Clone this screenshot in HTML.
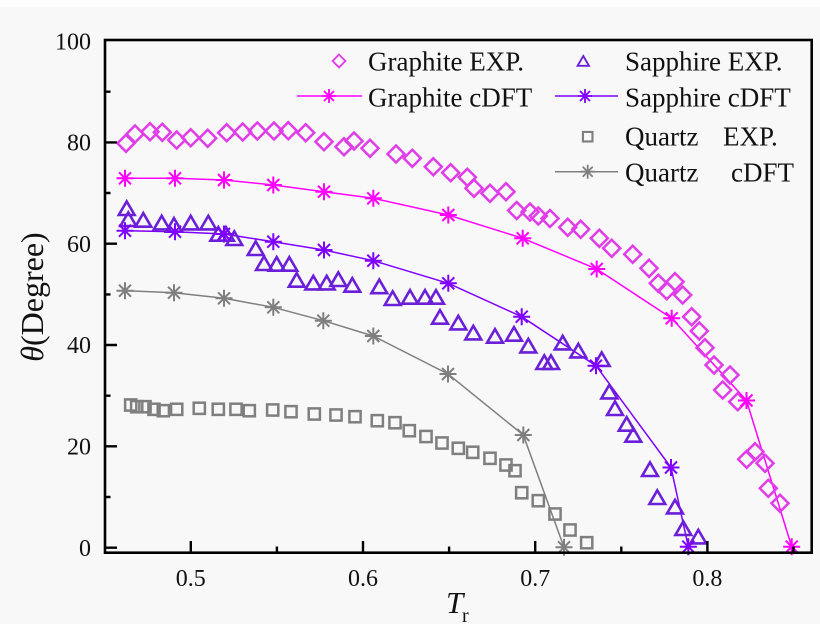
<!DOCTYPE html>
<html><head><meta charset="utf-8"><style>
html,body{margin:0;padding:0;background:#f8f8f8;}
svg{display:block;font-family:"Liberation Serif","Times New Roman",serif;}
svg text{font-family:"Liberation Serif","Times New Roman",serif;fill:#111;}
</style></head><body>
<svg width="820" height="624" viewBox="0 0 820 624" xmlns="http://www.w3.org/2000/svg" font-family="'Liberation Serif', serif">
<defs>
<path id="dia" d="M0,-8.5 L8.5,0 L0,8.5 L-8.5,0 Z" fill="none" stroke="#e03ce8" stroke-width="2.5"/>
<path id="tri" d="M0,-6.9 L7.9,6.7 L-7.9,6.7 Z" fill="none" stroke="#6b1fd9" stroke-width="2.6" stroke-linejoin="miter"/>
<rect id="sq" x="-5.6" y="-5.6" width="11.2" height="11.2" fill="none" stroke="#7f7f7f" stroke-width="2.5"/>
<g id="stG" stroke="#ff00ff" stroke-width="2"><path d="M-8.5,0H8.5M0,-8.5V8.5M-6,-6L6,6M-6,6L6,-6"/></g>
<g id="stS" stroke="#7f00ff" stroke-width="2"><path d="M-8.5,0H8.5M0,-8.5V8.5M-6,-6L6,6M-6,6L6,-6"/></g>
<g id="stQ" stroke="#7f7f7f" stroke-width="2"><path d="M-8.5,0H8.5M0,-8.5V8.5M-6,-6L6,6M-6,6L6,-6"/></g>
<g id="lstG" stroke="#ff00ff" stroke-width="1.8"><path d="M-7,0H7M0,-7V7M-5,-5L5,5M-5,5L5,-5"/></g>
<g id="lstS" stroke="#7f00ff" stroke-width="1.8"><path d="M-7,0H7M0,-7V7M-5,-5L5,5M-5,5L5,-5"/></g>
<g id="lstQ" stroke="#7f7f7f" stroke-width="1.8"><path d="M-7,0H7M0,-7V7M-5,-5L5,5M-5,5L5,-5"/></g>
</defs>
<rect x="0" y="0" width="820" height="7" fill="#fdfdfd"/>

<polyline fill="none" stroke="#ff00ff" stroke-width="1.5" points="125,178.3 175,178.3 224,180 273.3,185 324,191.7 373.3,198.3 448.3,215 522.7,238.3 596.7,269 671.7,318.3 746.5,400.5 791.7,546.7"/>
<polyline fill="none" stroke="#7f00ff" stroke-width="1.5" points="125,230.7 175,231.7 224,234 273.3,241.7 324,250 373.3,260.7 448.3,283.3 521.7,316.7 596,365.7 671,467.5 688.3,546.7"/>
<polyline fill="none" stroke="#7f7f7f" stroke-width="1.5" points="125,290.7 174,292.7 224,298.3 273.3,307.3 323.3,320.7 373.3,336 448,374 523.3,435 564,547.3"/>

<g>
<use href="#sq" x="130.7" y="405"/><use href="#sq" x="136.7" y="406.7"/><use href="#sq" x="145" y="406.7"/><use href="#sq" x="154" y="409.3"/><use href="#sq" x="163.3" y="410.7"/><use href="#sq" x="176.7" y="409.3"/><use href="#sq" x="199.3" y="408.3"/><use href="#sq" x="218.3" y="409.3"/><use href="#sq" x="236" y="409.3"/><use href="#sq" x="249.3" y="410.7"/><use href="#sq" x="272.7" y="410"/><use href="#sq" x="291" y="411.7"/><use href="#sq" x="314.3" y="414"/><use href="#sq" x="336" y="415"/><use href="#sq" x="355" y="416.7"/><use href="#sq" x="377.3" y="420.7"/><use href="#sq" x="395" y="422.7"/><use href="#sq" x="409.3" y="430.7"/><use href="#sq" x="426" y="436.5"/><use href="#sq" x="442" y="443"/><use href="#sq" x="458.3" y="448.3"/><use href="#sq" x="472.7" y="452.3"/><use href="#sq" x="490" y="458.3"/><use href="#sq" x="506" y="465"/><use href="#sq" x="515" y="470.7"/><use href="#sq" x="521.7" y="492.7"/><use href="#sq" x="538.3" y="500.7"/><use href="#sq" x="555" y="514"/><use href="#sq" x="570" y="530"/><use href="#sq" x="586.7" y="542.7"/>
</g>

<g>
<use href="#tri" x="126.7" y="208.3"/><use href="#tri" x="128.3" y="219.3"/><use href="#tri" x="143.3" y="220"/><use href="#tri" x="161.7" y="222.7"/><use href="#tri" x="174" y="225"/><use href="#tri" x="190.7" y="222.7"/><use href="#tri" x="208.3" y="222.7"/><use href="#tri" x="218.3" y="234"/><use href="#tri" x="226" y="234"/><use href="#tri" x="234.3" y="238.3"/><use href="#tri" x="255.7" y="248.3"/><use href="#tri" x="264" y="263.3"/><use href="#tri" x="276.7" y="264"/><use href="#tri" x="289.3" y="264"/><use href="#tri" x="296.7" y="280"/><use href="#tri" x="313.3" y="282.7"/><use href="#tri" x="326.7" y="282.7"/><use href="#tri" x="338.3" y="279.3"/><use href="#tri" x="352.3" y="285"/><use href="#tri" x="379.3" y="286.5"/><use href="#tri" x="392.7" y="298.3"/><use href="#tri" x="410" y="297"/><use href="#tri" x="425" y="297"/><use href="#tri" x="436" y="297"/><use href="#tri" x="440" y="317"/><use href="#tri" x="458.3" y="322.7"/><use href="#tri" x="473.3" y="332.7"/><use href="#tri" x="495" y="336"/><use href="#tri" x="514" y="334"/><use href="#tri" x="528.3" y="345.7"/><use href="#tri" x="544.3" y="362.3"/><use href="#tri" x="551" y="362.3"/><use href="#tri" x="562.7" y="342.7"/><use href="#tri" x="578.3" y="350.7"/><use href="#tri" x="601.7" y="359.3"/><use href="#tri" x="609.3" y="391.7"/><use href="#tri" x="615" y="408.3"/><use href="#tri" x="626.7" y="424"/><use href="#tri" x="633.3" y="435"/><use href="#tri" x="650" y="469.3"/><use href="#tri" x="657.3" y="497.3"/><use href="#tri" x="675" y="506.7"/><use href="#tri" x="683.3" y="528.3"/><use href="#tri" x="698.3" y="536.7"/>
</g>

<g>
<use href="#dia" x="126" y="143.3"/><use href="#dia" x="135" y="134"/><use href="#dia" x="150" y="131.7"/><use href="#dia" x="162.3" y="132.3"/><use href="#dia" x="176.7" y="140"/><use href="#dia" x="190.7" y="137.7"/><use href="#dia" x="207.7" y="138.3"/><use href="#dia" x="226.7" y="132.7"/><use href="#dia" x="242.7" y="132"/><use href="#dia" x="257.3" y="131"/><use href="#dia" x="274" y="131"/><use href="#dia" x="288.3" y="130.7"/><use href="#dia" x="305.7" y="132.7"/><use href="#dia" x="324" y="141.7"/><use href="#dia" x="344" y="146.7"/><use href="#dia" x="354" y="141"/><use href="#dia" x="370" y="148.3"/><use href="#dia" x="396" y="154"/><use href="#dia" x="412.3" y="158.3"/><use href="#dia" x="433.3" y="166.7"/><use href="#dia" x="450.7" y="172.7"/><use href="#dia" x="467.3" y="177.3"/><use href="#dia" x="474" y="188.3"/><use href="#dia" x="490" y="193.3"/><use href="#dia" x="506" y="191.7"/><use href="#dia" x="516.7" y="210.5"/><use href="#dia" x="530" y="212"/><use href="#dia" x="538.3" y="216"/><use href="#dia" x="550" y="218.5"/><use href="#dia" x="567.7" y="227.3"/><use href="#dia" x="580.7" y="229.3"/><use href="#dia" x="599.3" y="238.3"/><use href="#dia" x="611.7" y="248.3"/><use href="#dia" x="632.7" y="254.3"/><use href="#dia" x="649" y="268.3"/><use href="#dia" x="658.3" y="283.3"/><use href="#dia" x="666.7" y="290.7"/><use href="#dia" x="675" y="281.7"/><use href="#dia" x="682.7" y="295"/><use href="#dia" x="691.7" y="316.7"/><use href="#dia" x="699.3" y="331"/><use href="#dia" x="705" y="347.7"/><use href="#dia" x="714" y="365"/><use href="#dia" x="730" y="375"/><use href="#dia" x="722.7" y="390"/><use href="#dia" x="737.7" y="401.7"/><use href="#dia" x="746.7" y="459.3"/><use href="#dia" x="755" y="451.7"/><use href="#dia" x="765" y="463.3"/><use href="#dia" x="768.3" y="488.3"/><use href="#dia" x="780" y="503.3"/>
</g>

<g>
<use href="#stG" x="125" y="178.3"/><use href="#stG" x="175" y="178.3"/><use href="#stG" x="224" y="180"/><use href="#stG" x="273.3" y="185"/><use href="#stG" x="324" y="191.7"/><use href="#stG" x="373.3" y="198.3"/><use href="#stG" x="448.3" y="215"/><use href="#stG" x="522.7" y="238.3"/><use href="#stG" x="596.7" y="269"/><use href="#stG" x="671.7" y="318.3"/><use href="#stG" x="746.5" y="400.5"/><use href="#stG" x="791.7" y="546.7"/>
<use href="#stS" x="125" y="230.7"/><use href="#stS" x="175" y="231.7"/><use href="#stS" x="224" y="234"/><use href="#stS" x="273.3" y="241.7"/><use href="#stS" x="324" y="250"/><use href="#stS" x="373.3" y="260.7"/><use href="#stS" x="448.3" y="283.3"/><use href="#stS" x="521.7" y="316.7"/><use href="#stS" x="596" y="365.7"/><use href="#stS" x="671" y="467.5"/><use href="#stS" x="688.3" y="546.7"/>
<use href="#stQ" x="125" y="290.7"/><use href="#stQ" x="174" y="292.7"/><use href="#stQ" x="224" y="298.3"/><use href="#stQ" x="273.3" y="307.3"/><use href="#stQ" x="323.3" y="320.7"/><use href="#stQ" x="373.3" y="336"/><use href="#stQ" x="448" y="374"/><use href="#stQ" x="523.3" y="435"/><use href="#stQ" x="564" y="547.3"/>
</g>

<rect x="105" y="40" width="706.7" height="512.7" fill="none" stroke="#000" stroke-width="2.6"/>
<g stroke="#000" stroke-width="2.4">
<path d="M105,547.7H117M105,446.3H117M105,345H117M105,243.7H117M105,142.4H117"/>
<path d="M105,497H110.5M105,395.7H110.5M105,294.4H110.5M105,193H110.5M105,91.7H110.5"/>
<path d="M190.8,552.7V541M363,552.7V541M535.2,552.7V541M707.4,552.7V541"/>
<path d="M276.9,552.7V546.5M449.1,552.7V546.5M621.3,552.7V546.5M793.5,552.7V546.5"/>
</g>
<g font-size="24" text-anchor="end" font-family="'Liberation Serif', serif">
<text x="91" y="556">0</text>
<text x="91" y="454.5">20</text>
<text x="91" y="353">40</text>
<text x="91" y="252">60</text>
<text x="91" y="150.5">80</text>
<text x="91" y="49.5">100</text>
</g>
<g font-size="24" text-anchor="middle" font-family="'Liberation Serif', serif">
<text x="190.8" y="586">0.5</text>
<text x="363" y="586">0.6</text>
<text x="535.2" y="586">0.7</text>
<text x="707.4" y="586">0.8</text>
</g>
<text transform="translate(43,297) rotate(-90)" font-size="32" text-anchor="middle" font-family="'Liberation Serif', serif"><tspan font-style="italic">θ</tspan>(Degree)</text>
<text x="446" y="613" font-size="31" font-style="italic" font-family="'Liberation Serif', serif">T</text>
<text x="462" y="622" font-size="20" font-family="'Liberation Serif', serif">r</text>

<g font-family="'Liberation Serif', serif" font-size="27">
<use href="#dia" x="339" y="61" transform="translate(339,61) scale(0.75) translate(-339,-61)"/>
<text x="368" y="70.7">Graphite EXP.</text>
<line x1="297" y1="96" x2="362" y2="96" stroke="#ff00ff" stroke-width="1.5"/>
<use href="#lstG" x="329" y="96"/>
<text x="368" y="106.5">Graphite cDFT</text>

<use href="#tri" x="583.3" y="61" transform="translate(583.3,61) scale(0.72) translate(-583.3,-61)"/>
<text x="625" y="70.7">Sapphire EXP.</text>
<line x1="555" y1="96" x2="618" y2="96" stroke="#7f00ff" stroke-width="1.5"/>
<use href="#lstS" x="585" y="96"/>
<text x="625" y="106.5">Sapphire cDFT</text>

<use href="#sq" x="587.7" y="136.7" transform="translate(587.7,136.7) scale(0.85) translate(-587.7,-136.7)"/>
<text x="625" y="145.5">Quartz</text>
<text x="723" y="145.5">EXP.</text>
<line x1="555" y1="171.7" x2="618" y2="171.7" stroke="#7f7f7f" stroke-width="1.5"/>
<use href="#lstQ" x="587.7" y="171.7"/>
<text x="625" y="181.5">Quartz</text>
<text x="731" y="181.5">cDFT</text>
</g>
</svg>
</body></html>
